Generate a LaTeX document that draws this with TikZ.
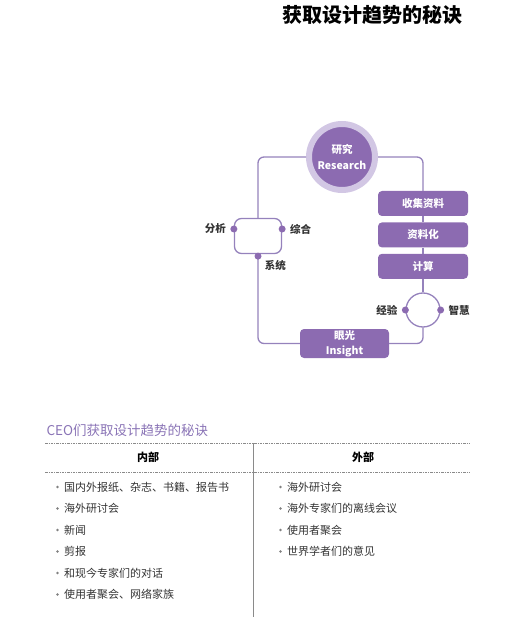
\documentclass[tikz,border=0pt]{standalone}
\usepackage{fontspec}
\setmainfont{Noto Sans CJK SC}
\usetikzlibrary{positioning}
\definecolor{purpdark}{HTML}{8C6BB1}
\definecolor{purpline}{HTML}{9582BC}
\definecolor{purpring}{HTML}{D2C7E4}
\definecolor{purphead}{HTML}{8A74B6}
\definecolor{rulegray}{HTML}{8A8A8A}
\definecolor{textgray}{HTML}{333333}

\begin{document}
\begin{tikzpicture}[
            x=1pt, y=-1pt,
            stepbox/.style={rectangle, rounded corners=4pt, fill=purpdark, text=white, minimum width=90pt, minimum height=25pt, inner sep=0pt, font=\fontsize{10.5}{12}\selectfont\bfseries},
            dot/.style={circle, fill=purpdark, inner sep=0pt, minimum size=7pt},
            lbl/.style={font=\fontsize{10.5}{12}\selectfont\bfseries, text=textgray, inner sep=0pt},
            link/.style={draw=purpline, line width=1.3pt, rounded corners=6pt},
            item/.style={anchor=west, font=\fontsize{11}{13}\selectfont, text=textgray, inner sep=0pt},
            bullet/.style={circle, fill=gray, inner sep=0pt, minimum size=2.6pt},
            dashrule/.style={draw=rulegray, line width=0.6pt, dash pattern=on 2.5pt off 1pt on 1pt off 1pt}
        ]
            \useasboundingbox (0,0) rectangle (517,617);

            % --- TITLE ---
            \node[anchor=east, font=\fontsize{20}{22}\selectfont\bfseries] (title) at (466,15) {获取设计趋势的秘诀};

            % --- CYCLE ---
            \node[circle, fill=purpdark, draw=purpring, line width=6pt, minimum size=66pt, inner sep=0pt, text=white, align=center, font=\fontsize{10.5}{16}\selectfont\bfseries] (research) at (342,157) {研究\\Research};
            \node[draw=purpline, line width=1.3pt, rounded corners=7pt, minimum width=47pt, minimum height=35pt] (bracket) at (258,236) {};
            \node[stepbox] (collect) at (423,203.5) {收集资料};
            \node[stepbox, below=6pt of collect] (datafy) {资料化};
            \node[stepbox, below=6pt of datafy] (calc) {计算};
            \node[circle, draw=purpline, line width=1.3pt, minimum size=34pt, inner sep=0pt] (mind) at (423,310) {};
            \node[stepbox, minimum width=89pt, minimum height=29pt, align=center, font=\fontsize{10.5}{15}\selectfont\bfseries] (insight) at (344.5,343.5) {眼光\\Insight};

            % --- LINKS ---
            \draw[link] (research.west) -| (bracket.north);
            \draw[link] (research.east) -| (collect.north);
            \draw[link] (collect.south) -- (datafy.north);
            \draw[link] (datafy.south) -- (calc.north);
            \draw[link] (calc.south) -- (mind.north);
            \draw[link] (mind.south) |- (insight.east);
            \draw[link] (bracket.south) |- (insight.west);

            % --- DOTS AND LABELS ---
            \node[dot] (analysisdot) at ([yshift=7pt]bracket.west) {};
            \node[dot] (synthdot) at ([yshift=7pt]bracket.east) {};
            \node[dot] (sysdot) at ([yshift=-2pt]bracket.south) {};
            \node[dot] (expdot) at (mind.west) {};
            \node[dot] (wisdot) at (mind.east) {};
            \node[lbl, left=4pt of analysisdot] (analysis) {分析};
            \node[lbl, right=4pt of synthdot] (synth) {综合};
            \node[lbl, below right=1pt and 4pt of sysdot] (system) {系统};
            \node[lbl, left=4pt of expdot] (experience) {经验};
            \node[lbl, right=4pt of wisdot] (wisdom) {智慧};

            % --- TABLE ---
            \node[anchor=west, text=purphead, font=\fontsize{13.5}{15}\selectfont] (tabtitle) at (43,430) {CEO们获取设计趋势的秘诀};
            \coordinate (ruletl) at (45,443);
            \coordinate (ruletr) at (469,443);
            \coordinate (rulebl) at (45,472);
            \coordinate (rulebr) at (469,472);
            \coordinate (divtop) at (253,443);
            \coordinate (divbot) at (253,617);
            \draw[dashrule] (ruletl) -- (ruletr);
            \draw[dashrule] (rulebl) -- (rulebr);
            \draw[draw=rulegray, line width=0.8pt] (divtop) -- (divbot);

            \node[font=\fontsize{11}{13}\selectfont\bfseries] (inner) at (148,457) {内部};
            \node[font=\fontsize{11}{13}\selectfont\bfseries] (outer) at (363,457) {外部};

            \foreach \txt [count=\i] in {国内外报纸、杂志、书籍、报告书, 海外研讨会, 新闻, 剪报, 和现今专家们的对话, 使用者聚会、网络家族}
            {
                \node[item] (inl\i) at (64,465.5+21.5*\i) {\txt};
                \node[bullet, left=5pt of inl\i] {};
            }
            \foreach \txt [count=\i] in {海外研讨会, 海外专家们的离线会议, 使用者聚会, 世界学者们的意见}
            {
                \node[item] (outl\i) at (287,465.5+21.5*\i) {\txt};
                \node[bullet, left=5pt of outl\i] {};
            }
        \end{tikzpicture}
\end{document}
